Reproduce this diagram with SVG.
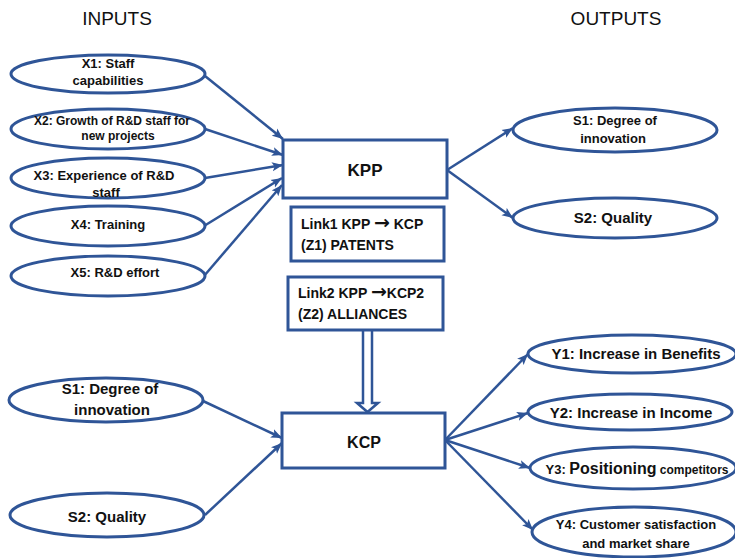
<svg xmlns="http://www.w3.org/2000/svg" width="735" height="558" viewBox="0 0 735 558">
<style>
.e{fill:#fff;stroke:#2f5597;stroke-width:3}
.b{fill:#fff;stroke:#2f5597;stroke-width:3}
.c line{stroke:#2f5597;stroke-width:2.5;marker-end:url(#ah)}
text{font-family:"Liberation Sans",Arial,sans-serif;font-weight:bold;fill:#111;text-anchor:middle}
.t{font-weight:normal;font-size:19px}
.s12{font-size:12px}.s13{font-size:13px}.s14{font-size:14px}.s15{font-size:15px}.s16{font-size:16px}.s17{font-size:17px}
.l{text-anchor:start}
.ar{font-family:"DejaVu Sans",sans-serif;font-size:19px;font-weight:bold}
</style>
<defs>
<marker id="ah" markerUnits="userSpaceOnUse" markerWidth="12" markerHeight="10" refX="11" refY="5" orient="auto">
<path d="M0,0.5 L11,5 L0,9.5 L2.5,5 Z" fill="#2f5597"/>
</marker>
</defs>
<rect width="735" height="558" fill="#fff"/>
<text class="t" x="117" y="25">INPUTS</text>
<text class="t" x="616" y="25">OUTPUTS</text>

<g class="c" id="connectors">
<line x1="205" y1="76" x2="283" y2="139"/>
<line x1="205" y1="129" x2="283" y2="155"/>
<line x1="205" y1="178" x2="283" y2="165"/>
<line x1="204" y1="226" x2="282" y2="178"/>
<line x1="204" y1="276" x2="282" y2="185"/>
<line x1="447" y1="170" x2="513" y2="128"/>
<line x1="447" y1="170" x2="513" y2="218"/>
<line x1="203" y1="401" x2="282" y2="438"/>
<line x1="205" y1="515" x2="282" y2="443"/>
<line x1="445" y1="440" x2="528" y2="354"/>
<line x1="445" y1="440" x2="528" y2="413"/>
<line x1="445" y1="440" x2="530" y2="468"/>
<line x1="445" y1="440" x2="533" y2="530"/>
<path d="M363,330 V403 H357 L367.5,412 L378,403 H372 V330" fill="#fff" stroke="#2f5597" stroke-width="2.5"/>
</g>

<g id="x1"><ellipse class="e" cx="108" cy="74" rx="97" ry="19"/>
<text class="s13" x="108" y="68">X1: Staff</text><text class="s13" x="108" y="85">capabilities</text></g>
<g id="x2"><ellipse class="e" cx="108" cy="129" rx="97" ry="20"/>
<text class="s12" x="112" y="125">X2: Growth of R&amp;D staff for</text><text class="s12" x="118" y="140">new projects</text></g>
<g id="x3"><ellipse class="e" cx="108" cy="178" rx="97" ry="20"/>
<text class="s13" x="104" y="180">X3: Experience of R&amp;D</text><text class="s13" x="106" y="197">staff</text></g>
<g id="x4"><ellipse class="e" cx="108" cy="226" rx="97" ry="20"/>
<text class="s13" x="108" y="229">X4: Training</text></g>
<g id="x5"><ellipse class="e" cx="108" cy="276" rx="97" ry="20"/>
<text class="s13" x="115" y="277">X5: R&amp;D effort</text></g>

<g id="kpp"><rect class="b" x="283" y="140" width="164" height="58"/>
<text class="s17" x="365" y="176">KPP</text></g>
<g id="link1"><rect class="b" x="291" y="207" width="153" height="54"/>
<text class="s14 l" x="301" y="229">Link1 KPP <tspan class="ar">→</tspan> KCP</text><text class="s14 l" x="301" y="250">(Z1) PATENTS</text></g>
<g id="link2"><rect class="b" x="288" y="277" width="155" height="53"/>
<text class="s14 l" x="298" y="298">Link2 KPP <tspan class="ar">→</tspan>KCP2</text><text class="s14 l" x="298" y="319">(Z2) ALLIANCES</text></g>

<g id="s1top"><ellipse class="e" cx="615" cy="130" rx="102" ry="22"/>
<text class="s13" x="615" y="125">S1: Degree of</text><text class="s13" x="613" y="143">innovation</text></g>
<g id="s2top"><ellipse class="e" cx="615" cy="218" rx="102" ry="20"/>
<text class="s15" x="613" y="223">S2: Quality</text></g>

<g id="s1left"><ellipse class="e" cx="106" cy="400" rx="97" ry="22"/>
<text class="s15" x="110" y="394">S1: Degree of</text><text class="s15" x="112" y="415">innovation</text></g>
<g id="s2left"><ellipse class="e" cx="107" cy="515" rx="97" ry="22"/>
<text class="s15" x="107" y="522">S2: Quality</text></g>

<g id="kcp"><rect class="b" x="282" y="413" width="163" height="55"/>
<text class="s16" x="364" y="448">KCP</text></g>

<g id="y1"><ellipse class="e" cx="632" cy="354" rx="104" ry="19"/>
<text class="s15" x="636" y="359">Y1: Increase in Benefits</text></g>
<g id="y2"><ellipse class="e" cx="630" cy="412" rx="102" ry="18"/>
<text class="s15" x="631" y="418">Y2: Increase in Income</text></g>
<g id="y3"><ellipse class="e" cx="633" cy="468" rx="103" ry="21"/>
<text x="637" y="474"><tspan class="s13">Y3: </tspan><tspan class="s16">Positioning</tspan><tspan class="s12"> competitors</tspan></text></g>
<g id="y4"><ellipse class="e" cx="634" cy="532" rx="102" ry="25"/>
<text class="s13" x="636" y="529">Y4: Customer satisfaction</text><text class="s13" x="636" y="548">and market share</text></g>
</svg>
